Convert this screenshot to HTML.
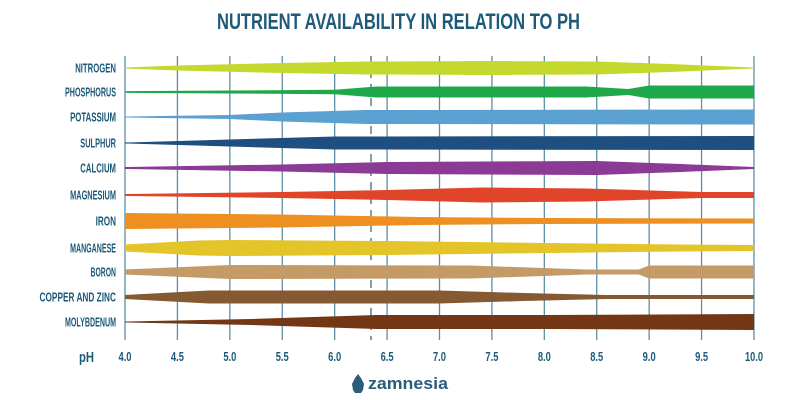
<!DOCTYPE html>
<html><head><meta charset="utf-8"><style>
html,body{margin:0;padding:0;background:#fff;width:800px;height:400px;overflow:hidden}
svg{display:block}
text{font-family:"Liberation Sans",sans-serif;font-weight:bold;fill:#1d5a7a}
</style></head><body>
<svg id="s" width="800" height="400" viewBox="0 0 800 400">
<text x="217" y="29" font-size="22" textLength="363" lengthAdjust="spacingAndGlyphs">NUTRIENT AVAILABILITY IN RELATION TO PH</text>
<g id="grid"></g>
<g id="bands"></g>
<g id="labels" font-size="12.5"></g>
<text x="79" y="362" font-size="15" textLength="15" lengthAdjust="spacingAndGlyphs">pH</text>
<g id="ticks" font-size="13"></g>
<g transform="translate(352,374)">
<path d="M6 0 L9 4 L12 10 L11 16 L9 19 L3 19 L1 16 L0 10 L3 4 Z" fill="#2a5d78"/>
<text x="16" y="15" font-size="17" textLength="80" lengthAdjust="spacingAndGlyphs" style="fill:#2a5d78">zamnesia</text>
</g>
</svg>
<script>
const ns="http://www.w3.org/2000/svg";
const X=p=>125+(p-4)*104.83;
function el(t,a,parent,txt){const e=document.createElementNS(ns,t);for(const k in a)e.setAttribute(k,a[k]);if(txt)e.textContent=txt;document.getElementById(parent).appendChild(e);return e;}
for(let p=4;p<=10.001;p+=0.5){
 el('line',{x1:X(p),x2:X(p),y1:56,y2:340,stroke:'#5c8ea8','stroke-width':1.3},'grid');
 const s=p.toFixed(1);
 el('text',{x:X(p),y:361,'text-anchor':'middle',textLength:s.length>3?18:13,lengthAdjust:'spacingAndGlyphs'},'ticks',s);
}
el('line',{x1:371,x2:371,y1:56,y2:340,stroke:'#3d6a80','stroke-width':1.3,'stroke-dasharray':'8,6'},'grid');
const rows=[
["NITROGEN",68,"#c5d82e",[[4,.5],[4.5,2.5],[5.5,5],[6.3,6.5],[7.5,7],[8.5,6.5],[9.2,4],[10,.5]]],
["PHOSPHORUS",92,"#1fa84a",[[4,.8],[5,1.5],[6,2.2],[6.4,5.5],[8.4,5.5],[8.8,3],[9,6.5],[10,6.5]]],
["POTASSIUM",117,"#5aa0d0",[[4,.5],[5,2],[5.5,4.5],[6.3,7],[10,7.5]]],
["SULPHUR",143,"#1f4e80",[[4,.5],[5,3.5],[6,6.5],[10,7]]],
["CALCIUM",168,"#8b3a96",[[4,1],[5.5,3.5],[6.5,6],[8.5,7],[9.3,4],[10,1]]],
["MAGNESIUM",195,"#e0452a",[[4,1],[5.5,3],[6.5,5],[7.4,7.5],[8.4,6.5],[9.5,3],[10,3]]],
["IRON",221,"#ee9021",[[4,8],[5.5,6.5],[6.8,4],[8,3],[10,2.5]]],
["MANGANESE",248,"#e3c52a",[[4,3.5],[4.7,7.5],[5,8],[6.5,7],[8,5],[9.3,3.5],[10,3]]],
["BORON",272,"#c49a67",[[4,2.5],[5,7],[7.3,6.5],[8.4,2.5],[8.9,2.5],[9,6.5],[10,6.5]]],
["COPPER AND ZINC",297,"#855932",[[4,2],[4.8,6.5],[7,6.5],[7.8,4],[8.6,2],[10,2]]],
["MOLYBDENUM",322,"#733716",[[4,.5],[5.2,3],[6.4,7],[8,7],[10,8]]]
];
rows.forEach(([n,y,c,pts])=>{
 let top=pts.map(([p,h])=>X(p).toFixed(1)+","+(y-h).toFixed(1));
 let bot=pts.slice().reverse().map(([p,h])=>X(p).toFixed(1)+","+(y+h).toFixed(1));
 el('polygon',{points:top.concat(bot).join(" "),fill:c},'bands');
 el('text',{x:116,y:y+4.5,'text-anchor':'end',textLength:n.length*5.1,lengthAdjust:'spacingAndGlyphs'},'labels',n);
});
</script>
</body></html>
